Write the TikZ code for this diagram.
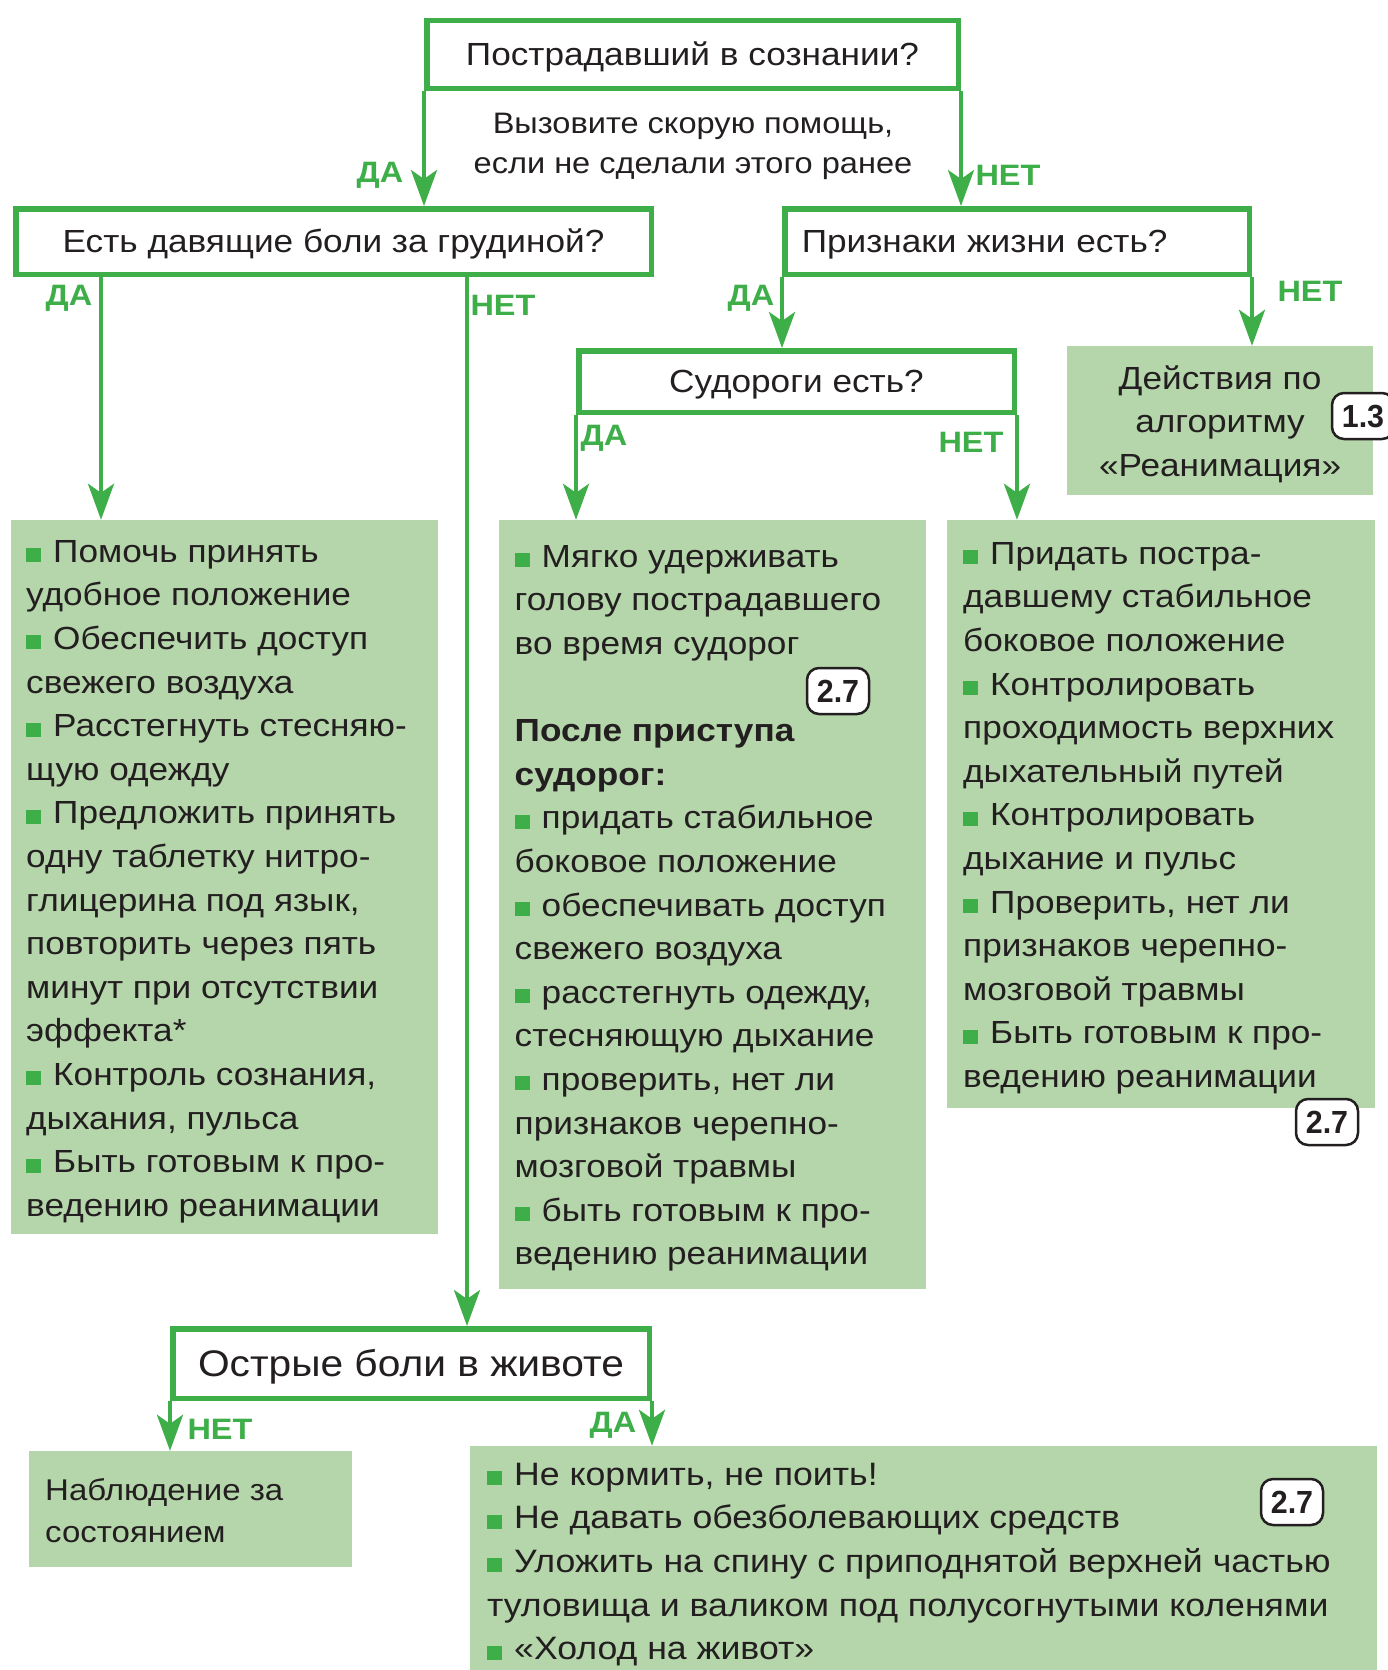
\documentclass[tikz,border=0pt]{standalone}
\usepackage{fontspec}
\setmainfont{Liberation Sans}[FakeStretch=1.1]
\newfontfamily\badgefont{Liberation Sans}[FakeStretch=0.95]
\usetikzlibrary{arrows.meta}
\definecolor{gr}{RGB}{62,174,73}
\definecolor{lg}{RGB}{181,214,170}
\definecolor{ink}{RGB}{35,31,32}
\newcommand\bul{\textcolor{gr}{\rule{15pt}{14pt}}\hspace{12pt}}
\newcommand\fst{\rule{0pt}{32pt}}
\begin{document}
\begin{tikzpicture}[x=1pt,y=-1pt,
 qbox/.style={draw=gr, line width=5.5pt, fill=white, inner sep=0pt, text=ink, text height=22.9pt, text depth=0pt},
 abox/.style={fill=lg, inner sep=0pt, draw=none},
 body/.style={font=\fontsize{32}{43.6}\selectfont, text=ink, align=left, inner sep=0pt, anchor=north west},
 lbl/.style={font=\fontsize{29.5}{30}\selectfont\bfseries, text=gr, inner sep=0pt},
 conn/.style={draw=gr, line width=4pt, -{Stealth[length=36pt,width=26pt,inset=9pt]}},
 badge/.style={draw=ink, line width=2.5pt, rounded corners=12pt, fill=white, minimum width=62pt, minimum height=46pt, inner sep=0pt, text height=22.9pt, text depth=0pt, font=\badgefont\fontsize{32}{32}\selectfont\bfseries, text=ink},
]
\useasboundingbox (0,0) rectangle (1387,1670);

% question boxes
\node[qbox, minimum width=531.5pt, minimum height=67.5pt, font=\fontsize{32}{38}\selectfont] (q1) at (692.5,54.5) {Пострадавший в сознании?};
\node[qbox, minimum width=635.5pt, minimum height=65.5pt, font=\fontsize{32}{38}\selectfont] (q2) at (333.5,241.5) {Есть давящие боли за грудиной?};
\node[qbox, minimum width=464.5pt, minimum height=65.5pt, text width=430.5pt, inner xsep=17pt, align=left, font=\fontsize{32}{38}\selectfont] (q3) at (1017,241.5) {Признаки жизни есть?};
\node[qbox, minimum width=435.5pt, minimum height=61.5pt, font=\fontsize{32}{38}\selectfont] (q4) at (796.5,381.5) {Судороги есть?};
\node[qbox, minimum width=476.5pt, minimum height=69.5pt, text height=26.5pt, font=\fontsize{37}{42}\selectfont] (q5) at (411,1363.5) {Острые боли в животе};

\node[font=\fontsize{29.6}{39.4}\selectfont, align=center, text=ink, inner sep=0pt] (call) at (693,146.5) {Вызовите скорую помощь,\\если не сделали этого ранее};

% answer boxes
\node[abox, minimum width=306pt, minimum height=149pt] (r) at (1220,420.5) {};
\node[abox, minimum width=427pt, minimum height=714pt] (a) at (224.5,877) {};
\node[abox, minimum width=427pt, minimum height=769pt] (b) at (712.5,904.5) {};
\node[abox, minimum width=428pt, minimum height=588pt] (c) at (1161,814) {};
\node[abox, minimum width=323pt, minimum height=116pt] (d) at (190.5,1509) {};
\node[abox, minimum width=907pt, minimum height=230pt] (e) at (923.5,1561) {};

% connectors
\coordinate (s2a) at (101,277);
\coordinate (s2b) at (467,277);
\draw[conn] (q1.south west) -- (q1.south west |- q2.north);
\draw[conn] (q1.south east) -- (q1.south east |- q3.north);
\draw[conn] (s2a) -- (s2a |- a.north);
\draw[conn] (s2b) -- (s2b |- q5.north);
\draw[conn] (q3.south west) -- (q3.south west |- q4.north);
\draw[conn] (q3.south east) -- (q3.south east |- r.north);
\draw[conn] (q4.south west) -- (q4.south west |- b.north);
\draw[conn] (q4.south east) -- (q4.south east |- c.north);
\draw[conn] (q5.south west) -- (q5.south west |- d.north);
\draw[conn] (q5.south east) -- (q5.south east |- e.north);

% labels
\node[lbl] (l1) at (380,175) {ДА};
\node[lbl] (l2) at (1008,175) {НЕТ};
\node[lbl] (l3) at (69,298) {ДА};
\node[lbl] (l4) at (503,305) {НЕТ};
\node[lbl] (l5) at (751,298) {ДА};
\node[lbl] (l6) at (1310,291) {НЕТ};
\node[lbl] (l7) at (604,438) {ДА};
\node[lbl] (l8) at (971,442) {НЕТ};
\node[lbl] (l9) at (220,1429) {НЕТ};
\node[lbl] (l10) at (613,1425) {ДА};

% texts
\node[body, align=center, anchor=north] (tr) at (1220,357) {\fst Действия по\\алгоритму\\«Реанимация»};

\node[body] (ta) at (26,530) {\fst\bul Помочь принять\\
удобное положение\\
\bul Обеспечить доступ\\
свежего воздуха\\
\bul Расстегнуть стесняю-\\
щую одежду\\
\bul Предложить принять\\
одну таблетку нитро-\\
глицерина под язык,\\
повторить через пять\\
минут при отсутствии\\
эффекта*\\
\bul Контроль сознания,\\
дыхания, пульса\\
\bul Быть готовым к про-\\
ведению реанимации};

\node[body] (tb) at (514.5,535) {\fst\bul Мягко удерживать\\
голову пострадавшего\\
во время судорог\\
\mbox{}\\
{\bfseries После приступа}\\
{\bfseries судорог:}\\
\bul придать стабильное\\
боковое положение\\
\bul обеспечивать доступ\\
свежего воздуха\\
\bul расстегнуть одежду,\\
стесняющую дыхание\\
\bul проверить, нет ли\\
признаков черепно-\\
мозговой травмы\\
\bul быть готовым к про-\\
ведению реанимации};

\node[body] (tc) at (963,532) {\fst\bul Придать постра-\\
давшему стабильное\\
боковое положение\\
\bul Контролировать\\
проходимость верхних\\
дыхательный путей\\
\bul Контролировать\\
дыхание и пульс\\
\bul Проверить, нет ли\\
признаков черепно-\\
мозговой травмы\\
\bul Быть готовым к про-\\
ведению реанимации};

\node[body, font=\fontsize{30}{42.6}\selectfont] (td) at (45,1468) {\fst Наблюдение за\\состоянием};

\node[body, font=\fontsize{32.4}{43.6}\selectfont] (te) at (487,1453) {\fst\bul Не кормить, не поить!\\
\bul Не давать обезболевающих средств\\
\bul Уложить на спину с приподнятой верхней частью\\
туловища и валиком под полусогнутыми коленями\\
\bul «Холод на живот»};

% badges
\node[badge] (bb) at (838,691) {2.7};
\node[badge] (bc) at (1327,1122) {2.7};
\node[badge] (be) at (1292,1502) {2.7};
\node[badge] (br) at (1363,416) {1.3};
\end{tikzpicture}
\end{document}
